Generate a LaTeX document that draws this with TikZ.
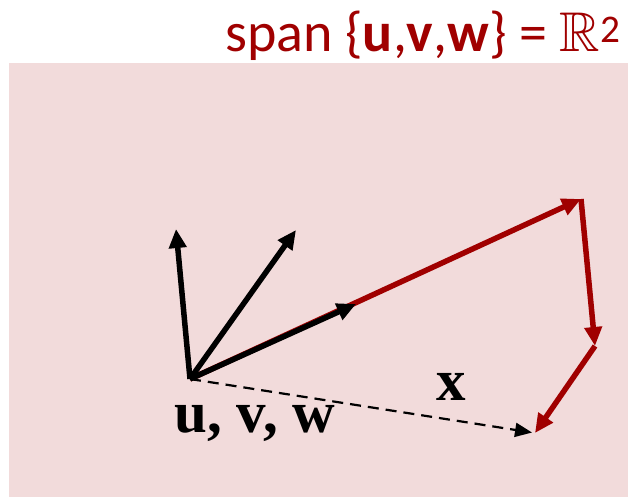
\documentclass[tikz,border=0pt]{standalone}
\usepackage{amssymb}
\usepackage{fontspec}
\newfontfamily\titlefont{Carlito}
\newfontfamily\labelfont{Liberation Serif}
\usetikzlibrary{arrows.meta}
\definecolor{spanred}{RGB}{160,0,0}
\definecolor{planepink}{RGB}{242,219,219}

\begin{document}
\begin{tikzpicture}[
    x=1pt, y=-1pt,
    vec/.style={line width=5.5pt, -{Triangle[length=19pt,width=17pt]}},
    redvec/.style={vec, spanred},
    comb/.style={line width=2.2pt, dash pattern=on 11pt off 7pt, -{Triangle[length=17pt,width=14pt]}, shorten >=3pt},
    lbl/.style={font=\labelfont\bfseries\fontsize{59}{62}\selectfont, inner sep=0pt}
]
    \useasboundingbox (0,0) rectangle (628,497);
    % the plane
    \fill [planepink] (9,63) rectangle (628,497);

    \coordinate (O) at (190,379);
    \coordinate (U) at (176,229);
    \coordinate (V) at (296,230);
    \coordinate (W) at (356,304);
    \coordinate (A) at (581,199);
    \coordinate (B) at (595,346);
    \coordinate (C) at (535,433);

    % path along the spanning vectors
    \draw [redvec] (O) -- (A);
    \draw [redvec] (A) -- (B);
    \draw [redvec] (B) -- (C);

    \draw [vec] (O) -- (U);
    \draw [vec] (O) -- (V);
    \draw [vec] (O) -- (W);

    \draw [comb] (O) -- (C);

    \node [lbl, anchor=base] (uvw) at (255,432) {u, v, w};
    \node [lbl, anchor=base] (x) at (451,400) {x};

    \node [anchor=base east, inner sep=0pt, text=spanred, font=\titlefont\fontsize{56}{60}\selectfont] (title) at (621,52)
        {span \{\textbf{u},\textbf{v},\textbf{w}\} = $\mathbb{R}$\textsuperscript{2}};
\end{tikzpicture}
\end{document}
